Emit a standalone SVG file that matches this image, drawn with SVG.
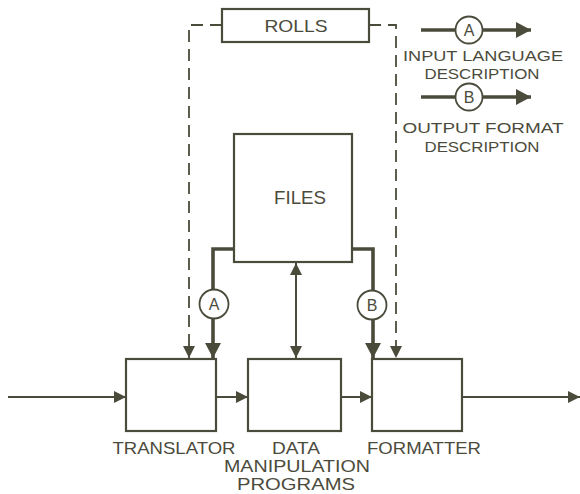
<svg xmlns="http://www.w3.org/2000/svg" width="580" height="494" viewBox="0 0 580 494">
<defs>
<style>
.box{fill:#fff;stroke:#4b4b3c;stroke-width:2.2}
.thin{fill:none;stroke:#4b4b3c;stroke-width:2}
.thick{fill:none;stroke:#4b4b3c;stroke-width:3.6}
.dash{fill:none;stroke:#4b4b3c;stroke-width:1.8;stroke-dasharray:12 7}
.circ{fill:#fff;stroke:#4b4b3c;stroke-width:1.8}
text{font-family:"Liberation Sans",Arial,sans-serif;fill:#4b4b3c;text-anchor:middle}
.lbl{font-size:17px}
.leg{font-size:15px}
.cl{font-size:16px}
</style>
<marker id="ah" markerUnits="userSpaceOnUse" markerWidth="12" markerHeight="12" viewBox="0 0 12 12" refX="12" refY="6" orient="auto">
<path d="M0,0 L12,6 L0,12 Z" fill="#4b4b3c"/>
</marker>
<marker id="ahs" markerUnits="userSpaceOnUse" markerWidth="12" markerHeight="12" viewBox="0 0 12 12" refX="12" refY="6" orient="auto-start-reverse">
<path d="M0,0 L12,6 L0,12 Z" fill="#4b4b3c"/>
</marker>
<marker id="ahb" markerUnits="userSpaceOnUse" markerWidth="15" markerHeight="16" viewBox="0 0 15 16" refX="15" refY="8" orient="auto">
<path d="M0,0 L15,8 L0,16 Z" fill="#4b4b3c"/>
</marker>
</defs>

<g id="connectors">
<path class="dash" d="M222,25 H189 V358" marker-end="url(#ah)"/>
<path class="dash" d="M369,25 H396 V358" marker-end="url(#ah)"/>
<path class="thick" d="M234,249 H213 V358" marker-end="url(#ahb)"/>
<path class="thick" d="M352,249 H373 V358" marker-end="url(#ahb)"/>
<path class="thin" d="M296,263 V358" marker-start="url(#ahs)" marker-end="url(#ahs)"/>
<path class="thin" d="M8,397 H126" marker-end="url(#ah)"/>
<path class="thin" d="M216,397 H248" marker-end="url(#ah)"/>
<path class="thin" d="M341,397 H372" marker-end="url(#ah)"/>
<path class="thin" d="M462,397 H580" marker-end="url(#ah)"/>
</g>

<g id="circleA">
<circle class="circ" cx="214" cy="304" r="14.5"/>
<text class="cl" x="214" y="310">A</text>
</g>
<g id="circleB">
<circle class="circ" cx="372" cy="305" r="14.5"/>
<text class="cl" x="372" y="311">B</text>
</g>

<g id="rolls">
<rect class="box" x="222" y="9" width="147" height="33"/>
<text class="lbl" x="296" y="32" font-size="19" textLength="63" lengthAdjust="spacingAndGlyphs">ROLLS</text>
</g>

<g id="files">
<rect class="box" x="234" y="134" width="118" height="128"/>
<text x="300" y="204" font-size="18" textLength="52" lengthAdjust="spacingAndGlyphs">FILES</text>
</g>

<g id="translator">
<rect class="box" x="126" y="359" width="90" height="72"/>
<text class="lbl" x="174" y="454" textLength="123" lengthAdjust="spacingAndGlyphs">TRANSLATOR</text>
</g>

<g id="data">
<rect class="box" x="248" y="359" width="93" height="72"/>
<text class="lbl" x="296" y="454" textLength="48" lengthAdjust="spacingAndGlyphs">DATA</text>
<text class="lbl" x="297" y="472" textLength="146" lengthAdjust="spacingAndGlyphs">MANIPULATION</text>
<text class="lbl" x="296" y="490" textLength="118" lengthAdjust="spacingAndGlyphs">PROGRAMS</text>
</g>

<g id="formatter">
<rect class="box" x="372" y="359" width="90" height="72"/>
<text class="lbl" x="424" y="454" textLength="114" lengthAdjust="spacingAndGlyphs">FORMATTER</text>
</g>

<g id="legend">
<path class="thick" d="M421,30 H531" marker-end="url(#ahb)"/>
<circle class="circ" cx="469" cy="30" r="13.5"/>
<text class="cl" x="469" y="36">A</text>
<text class="leg" x="483" y="61" textLength="160" lengthAdjust="spacingAndGlyphs">INPUT LANGUAGE</text>
<text class="leg" x="482" y="79" textLength="115" lengthAdjust="spacingAndGlyphs">DESCRIPTION</text>
<path class="thick" d="M421,97 H531" marker-end="url(#ahb)"/>
<circle class="circ" cx="469" cy="97" r="13.5"/>
<text class="cl" x="469" y="103">B</text>
<text class="leg" x="483" y="133" textLength="161" lengthAdjust="spacingAndGlyphs">OUTPUT FORMAT</text>
<text class="leg" x="482" y="152" textLength="115" lengthAdjust="spacingAndGlyphs">DESCRIPTION</text>
</g>
</svg>
